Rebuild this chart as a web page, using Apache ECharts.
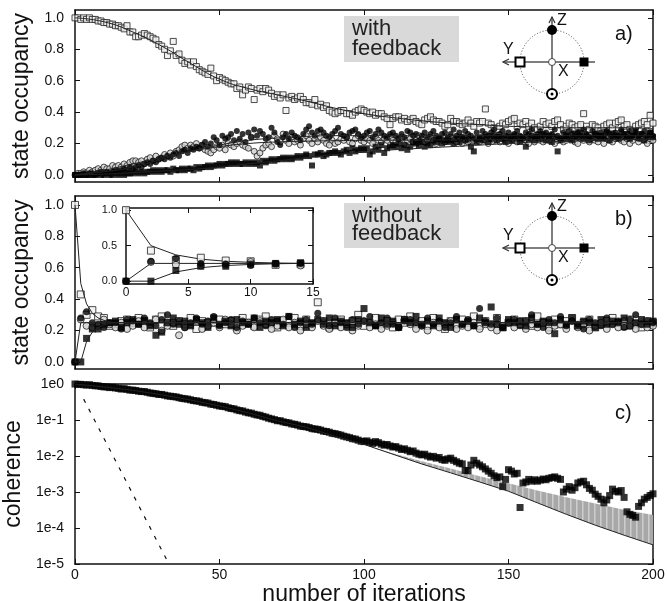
<!DOCTYPE html>
<html>
<head>
<meta charset="utf-8">
<script src="https://cdn.jsdelivr.net/npm/echarts@6/dist/echarts.min.js"></script>
<style>
  html, body { margin: 0; padding: 0; background: #fff; }
  #chart { width: 667px; height: 601px; }
</style>
</head>
<body>
<div id="chart"></div>
<script>
var FONT = "Liberation Sans, Arial, Helvetica, sans-serif";
var INK = "#111";

// a) with feedback: occupancy in percent, one value per iteration 0..200
var fbY = [100,100,99,100,99,100,99,99,98,98, 97,97,96,96,95,95,94,93,95,91,
  91,88,88,89,90,89,88,87,86,83, 82,80,76,79,85,76,77,73,71,72,
  70,72,69,67,66,65,64,68,63,60, 62,61,60,59,58,58,55,56,51,54,
  56,55,48,54,55,53,55,54,52,50, 51,49,51,41,49,50,48,49,50,48,
  46,46,45,48,44,45,43,44,41,40, 39,40,41,41,39,39,38,40,41,42,
  41,40,39,40,38,39,39,37,36,32, 36,37,37,35,36,34,35,36,34,33,
  32,35,36,37,35,34,34,33,31,32, 36,34,34,33,32,33,35,33,31,34,
  33,34,42,33,32,30,29,31,33,32, 34,35,36,31,33,32,34,31,33,30,
  29,31,34,32,33,31,34,35,32,29, 31,33,32,30,31,32,39,31,29,32,
  31,30,28,31,32,33,30,33,34,35, 31,32,29,28,31,32,33,34,32,38, 33];
var fbZ = [0,0,0,1,0,1,1,0,1,2, 1,2,1,2,3,2,3,4,3,5,
  4,5,6,5,7,8,7,9,8,10, 11,10,12,11,13,14,12,15,16,14,
  17,16,18,17,19,21,18,20,24,22, 19,25,23,24,26,22,28,23,26,21,
  27,24,29,25,28,26,23,24,30,27, 21,19,24,26,23,27,25,24,22,26,
  29,31,27,25,28,29,27,25,24,26, 28,30,26,25,24,27,28,29,26,24,
  25,27,28,24,26,29,27,25,24,26, 27,25,23,26,24,28,27,25,26,22,
  25,27,24,26,28,25,23,26,27,24, 26,29,25,27,24,28,26,25,23,27,
  24,28,26,25,27,29,24,26,28,25, 27,24,26,28,25,23,27,26,29,24,
  26,28,25,27,24,26,29,25,23,27, 25,28,26,24,27,25,29,26,24,28,
  26,25,27,23,28,26,24,27,25,29, 26,24,28,25,27,23,26,28,24,27, 25];
var fbMinusZ = [0,1,1,2,1,3,2,3,4,3, 5,4,4,6,5,6,5,7,6,8,
  9,9,8,9,7,10,11,9,12,10, 11,13,12,14,12,15,16,18,19,17,
  19,18,20,17,19,16,15,14,16,18, 17,19,16,20,19,18,20,21,19,18,
  17,24,15,12,14,17,19,20,18,25, 23,21,26,22,20,24,21,22,19,23,
  25,22,20,23,21,24,22,20,19,22, 20,21,23,22,24,21,20,23,25,22,
  21,23,22,20,24,22,21,23,22,24, 22,21,23,24,20,22,23,21,22,25,
  23,21,22,24,22,20,23,22,21,23, 24,22,21,23,20,22,21,22,22,23,
  21,24,22,20,23,22,24,21,23,22, 20,23,22,21,24,23,22,20,23,21,
  24,22,21,23,22,25,20,22,23,21, 22,24,23,21,20,23,22,24,21,23,
  22,21,24,20,23,22,21,23,24,22, 21,23,20,22,24,21,23,22,20,23, 22];
var fbX = [0,0,0,0,0,0,0,0,1,0, 0,1,0,0,1,0,1,0,1,1,
  1,2,1,2,1,2,2,3,2,3, 2,3,3,2,4,3,3,4,3,4,
  4,3,5,4,5,5,6,5,6,6, 7,6,7,7,8,7,8,7,7,8,
  7,8,7,8,6,9,8,9,10,9, 10,10,11,10,11,10,11,12,11,12,
  13,12,6,13,13,14,12,13,14,14, 15,14,13,15,16,14,17,15,16,17,
  16,17,13,15,18,16,19,14,17,18, 19,18,20,17,19,16,18,21,20,19,
  21,18,20,19,22,21,23,20,22,21, 22,20,23,21,24,22,23,18,15,21,
  23,22,24,21,23,25,22,24,23,21, 24,22,25,23,21,24,18,23,25,22,
  24,23,26,22,25,21,24,15,22,23, 25,23,22,26,24,27,23,25,22,24,
  26,23,25,24,27,22,26,25,23,27, 24,26,23,25,28,24,26,22,25,27, 24];

// a) model curves
var fbCurveIter = [0,10,20,30,40,50,60,70,80,90,100,110,120,130,140,150,160,170,180,190,200];
var fbCurveY = [1.0,0.975,0.91,0.82,0.71,0.61,0.55,0.51,0.47,0.425,0.39,0.365,0.345,0.33,0.32,0.31,0.305,0.30,0.30,0.30,0.295];
var fbCurveZ = [0,0.02,0.05,0.10,0.15,0.19,0.22,0.235,0.245,0.25,0.25,0.25,0.25,0.25,0.25,0.25,0.25,0.25,0.25,0.25,0.25];
var fbCurveMinusZ = [0,0.03,0.07,0.11,0.15,0.18,0.20,0.21,0.215,0.218,0.22,0.221,0.222,0.223,0.224,0.225,0.225,0.225,0.225,0.225,0.225];
var fbCurveX = [0,0.005,0.015,0.025,0.035,0.05,0.07,0.09,0.11,0.13,0.145,0.16,0.17,0.18,0.19,0.20,0.21,0.215,0.22,0.225,0.23];

// b) without feedback: percent, every 2nd iteration 0..200
var nfStep = 2;
var nfY = [100,43,30,33,29,28,23,24,26,27, 25,28,26,22,27,29,25,23,26,24,
  28,21,26,25,25,27,24,26,22,28, 25,23,27,29,24,22,26,25,28,23,
  27,24,38,26,22,25,27,24,26,30, 23,25,28,24,26,22,27,25,29,24,
  26,23,28,25,21,26,24,27,25,29, 23,26,24,28,22,25,27,24,26,23,
  29,25,22,27,24,26,28,23,25,27, 22,24,26,28,25,23,27,24,22,26, 25];
var nfZ = [0,28,32,25,24,22,25,25,21,27, 26,24,28,25,23,27,30,24,26,22,
  25,28,24,26,29,23,25,27,22,26, 24,28,25,23,27,26,24,29,22,25,
  27,24,31,26,23,28,25,22,27,24, 26,29,23,25,28,24,22,26,27,25,
  23,28,24,26,22,25,29,24,27,23, 34,26,24,28,22,25,27,23,26,30,
  24,22,27,25,29,23,26,24,21,27, 25,23,28,24,26,22,27,30,24,26, 25];
var nfMinusZ = [0,27,23,22,23,27,24,22,25,21, 23,26,22,24,27,20,23,25,17,22,
  24,26,21,23,25,22,27,24,20,23, 25,22,26,24,21,23,27,22,25,20,
  24,22,26,23,21,25,22,24,20,23, 26,22,24,21,23,25,22,27,24,21,
  23,20,25,22,24,26,21,23,22,25, 21,24,22,20,23,25,22,26,21,24,
  22,25,20,23,24,21,26,22,24,20, 23,25,21,24,22,26,23,21,24,22, 23];
var nfX = [0,0,15,21,21,24,25,26,22,25, 27,24,26,23,17,19,25,28,24,26,
  23,27,25,22,28,24,26,23,27,25, 24,28,22,26,25,27,23,29,24,26,
  22,25,27,24,28,23,26,25,22,27, 34,25,23,28,24,26,22,27,25,29,
  24,26,23,28,25,22,27,24,26,23, 28,25,35,24,22,27,25,26,23,28,
  24,26,25,18,27,24,28,23,26,25, 22,27,24,26,25,28,23,25,27,24, 26];

// b) model curves
var nfCurveIter = [0,2,4,6,8,10,12,14,200];
var nfCurveY = [1,0.5,0.37,0.31,0.28,0.265,0.255,0.25,0.25];
var nfCurveZ = [0,0.25,0.25,0.25,0.25,0.25,0.25,0.25,0.25];
var nfCurveX = [0,0,0.13,0.19,0.22,0.235,0.245,0.25,0.25];

// c) coherence, read in decades (log10), one value per iteration 0..200
var coherenceExp = [0,-0.01,-0.01,-0.02,-0.03,-0.02,-0.04,-0.05,-0.05,-0.07,
  -0.08,-0.08,-0.1,-0.09,-0.11,-0.12,-0.14,-0.13,-0.15,-0.17,
  -0.17,-0.18,-0.2,-0.21,-0.21,-0.23,-0.25,-0.26,-0.27,-0.29,
  -0.29,-0.31,-0.33,-0.34,-0.35,-0.36,-0.38,-0.4,-0.41,-0.42,
  -0.44,-0.46,-0.47,-0.48,-0.51,-0.52,-0.53,-0.56,-0.57,-0.59,
  -0.61,-0.62,-0.63,-0.66,-0.68,-0.69,-0.72,-0.74,-0.75,-0.78,
  -0.8,-0.81,-0.84,-0.86,-0.87,-0.9,-0.92,-0.95,-0.97,-0.99,
  -1.02,-1.02,-1.05,-1.07,-1.08,-1.11,-1.12,-1.14,-1.17,-1.18,
  -1.19,-1.21,-1.24,-1.25,-1.26,-1.28,-1.31,-1.32,-1.34,-1.37,
  -1.38,-1.4,-1.42,-1.45,-1.47,-1.49,-1.52,-1.53,-1.56,-1.59,
  -1.6,-1.58,-1.62,-1.65,-1.6,-1.63,-1.67,-1.7,-1.68,-1.72,
  -1.75,-1.74,-1.78,-1.82,-1.8,-1.84,-1.88,-1.86,-1.92,-1.95,
  -1.97,-1.95,-2.0,-2.03,-2.01,-2.06,-2.04,-2.1,-2.12,-2.08,
  -2.06,-2.12,-2.16,-2.2,-2.22,-2.4,-2.41,-2.25,-2.12,-2.2,
  -2.25,-2.3,-2.36,-2.42,-2.48,-2.55,-2.6,-2.58,-2.85,-2.65,
  -2.38,-2.42,-2.5,-2.48,-3.43,-2.75,-2.72,-2.65,-2.7,-2.66,
  -2.7,-2.67,-2.64,-2.66,-2.62,-2.6,-2.58,-2.62,-2.65,-3.0,
  -2.92,-2.85,-2.95,-2.88,-2.75,-2.72,-2.7,-2.8,-2.9,-2.95,
  -3.06,-3.12,-3.2,-3.3,-3.22,-3.1,-2.92,-2.98,-3.0,-2.96,
  -3.15,-3.55,-3.62,-3.65,-3.7,-3.4,-3.3,-3.2,-3.15,-3.1,
  -3.05];
var cohCurveIter = [0,10,20,30,40,50,60,70,80,90,100,110,120,130,140,150,160,170,180,190,200];
var cohCurve = [1,0.83,0.67,0.5,0.36,0.245,0.158,0.095,0.063,0.035,0.021,0.0112,0.006,0.0034,0.0019,0.00105,0.0005,0.00024,0.00012,0.000063,0.000034];
var bandIter = [100,110,120,130,140,150,160,170,180,190,200];
var bandLow = [0.021,0.0112,0.006,0.0034,0.0019,0.00105,0.0005,0.00024,0.00012,0.000063,0.000034];
var bandHigh = [0.021,0.012,0.0072,0.0045,0.00275,0.00174,0.0011,0.00072,0.00048,0.00032,0.00023];
var noFbIter = [3, 32.5];
var noFbCoh = [0.38, 0.00001];

var occTicks = [0, 0.2, 0.4, 0.6, 0.8, 1.0];
var insetTicks = [0, 0.5, 1.0];

function seq(arr, step, scale) {
  return arr.map(function (v, i) { return [i * step, v / scale]; });
}
function pairs(xs, ys) {
  return xs.map(function (x, i) { return [x, ys[i]]; });
}

var MARK = {
  openSq: { symbol: "rect", itemStyle: { color: "#f0f0f0", borderColor: "#222", borderWidth: 1 } },
  openCi: { symbol: "circle", itemStyle: { color: "#cfcfcf", borderColor: "#222", borderWidth: 1 } },
  fullCi: { symbol: "circle", itemStyle: { color: "#000" } },
  fullSq: { symbol: "rect", itemStyle: { color: "#000" } }
};

function dots(xi, data, mark, size, z) {
  return {
    type: "scatter", xAxisIndex: xi, yAxisIndex: xi, data: data,
    symbol: mark.symbol, symbolSize: size, itemStyle: mark.itemStyle,
    z: z || 3, silent: true
  };
}
function curve(xi, data, smooth, z) {
  return {
    type: "line", xAxisIndex: xi, yAxisIndex: xi, data: data,
    showSymbol: false, smooth: smooth, lineStyle: { color: "#222", width: 1 },
    z: z || 4, silent: true
  };
}

var lineSt = { color: INK, width: 1.5 };
var tickSt = { color: INK, width: 1 };
var lblSt = { fontSize: 14, color: INK, fontFamily: FONT };

function xAx(grid, pos, label, min, max, interval, extra) {
  var ax = {
    type: "value", gridIndex: grid, position: pos, min: min, max: max, interval: interval,
    axisLine: { onZero: false, lineStyle: lineSt },
    axisTick: { inside: true, length: 5, lineStyle: tickSt },
    axisLabel: Object.assign({ show: label, margin: 4 }, lblSt),
    splitLine: { show: false }
  };
  return Object.assign(ax, extra || {});
}
function yAx(grid, pos, label, min, max, ticks, extra) {
  var ax = {
    type: "value", gridIndex: grid, position: pos, min: min, max: max,
    axisLine: { onZero: false, lineStyle: lineSt },
    axisTick: { inside: true, length: 5, lineStyle: tickSt, customValues: ticks },
    axisLabel: Object.assign({
      show: label, margin: 11, customValues: ticks,
      formatter: function (v) { return v.toFixed(1); }
    }, lblSt),
    splitLine: { show: false }
  };
  return Object.assign(ax, extra || {});
}
function logAx(pos, label, extra) {
  var ax = {
    type: "log", logBase: 10, gridIndex: 2, position: pos, min: 0.00001, max: 1,
    axisLine: { onZero: false, lineStyle: lineSt },
    axisTick: { inside: true, length: 5, lineStyle: tickSt },
    minorTick: { show: false },
    axisLabel: Object.assign({
      show: label, margin: 11,
      formatter: function (v) { return "1e" + Math.round(Math.log10(v)); }
    }, lblSt),
    splitLine: { show: false }
  };
  return Object.assign(ax, extra || {});
}

var axisName = { fontSize: 23, color: INK, fontFamily: FONT };

var bandPattern = (function () {
  var c = document.createElement("canvas");
  c.width = 6; c.height = 4;
  var g = c.getContext("2d");
  g.fillStyle = "#a8a8a8"; g.fillRect(0, 0, 6, 4);
  g.fillStyle = "#cdcdcd"; g.fillRect(0, 0, 1.5, 4);
  return c;
})();

function sphere(cy) {
  var cx = 552, r = 32;
  var st = { stroke: "#555", lineWidth: 1.5 };
  return [
    { type: "circle", shape: { cx: cx, cy: cy, r: r }, style: { fill: "none", stroke: "#444", lineWidth: 1, lineDash: [1, 2] } },
    { type: "line", shape: { x1: 503, y1: cy, x2: 595, y2: cy }, style: st },
    { type: "line", shape: { x1: cx, y1: cy - 45, x2: cx, y2: cy + 38 }, style: st },
    { type: "polyline", shape: { points: [[509, cy - 3], [503, cy], [509, cy + 3]] }, style: { stroke: "#333", lineWidth: 1.2, fill: "none" } },
    { type: "polyline", shape: { points: [[cx - 3, cy - 39], [cx, cy - 45], [cx + 3, cy - 39]] }, style: { stroke: "#333", lineWidth: 1.2, fill: "none" } },
    { type: "circle", shape: { cx: cx, cy: cy - r, r: 5 }, style: { fill: "#000" } },
    { type: "rect", shape: { x: 515.5, y: cy - 4.5, width: 9, height: 9 }, style: { fill: "#fff", stroke: "#000", lineWidth: 2 } },
    { type: "rect", shape: { x: 579.5, y: cy - 4.5, width: 9, height: 9 }, style: { fill: "#000" } },
    { type: "circle", shape: { cx: cx, cy: cy, r: 3.5 }, style: { fill: "#fff", stroke: "#444", lineWidth: 1 } },
    { type: "circle", shape: { cx: cx, cy: cy + r, r: 5 }, style: { fill: "#fff", stroke: "#000", lineWidth: 2 } },
    { type: "circle", shape: { cx: cx, cy: cy + r, r: 1.5 }, style: { fill: "#000" } },
    { type: "text", style: { text: "Z", x: 557, y: cy - 41, font: "16px " + FONT, fill: INK, align: "left", verticalAlign: "middle" } },
    { type: "text", style: { text: "Y", x: 503, y: cy - 12, font: "16px " + FONT, fill: INK, align: "left", verticalAlign: "middle" } },
    { type: "text", style: { text: "X", x: 558, y: cy + 10, font: "16px " + FONT, fill: INK, align: "left", verticalAlign: "middle" } }
  ];
}

function noteBox(y, h, text, top, lh) {
  return [
    { type: "rect", shape: { x: 344, y: y, width: 115, height: h }, style: { fill: "#d9d9d9" } },
    { type: "text", style: { text: text, x: 352, y: top, font: "22px " + FONT, lineHeight: lh, fill: "#222", align: "left", verticalAlign: "top" } }
  ];
}
function panelTag(text, y) {
  return { type: "text", style: { text: text, x: 615, y: y, font: "20px " + FONT, fill: INK, align: "left", verticalAlign: "middle" } };
}

var chart = echarts.init(document.getElementById("chart"), null, { renderer: "canvas" });

var option = {
  animation: false,
  backgroundColor: "#fff",
  grid: [
    { left: 75, top: 10, width: 578, height: 172, outerBoundsMode: "none" },
    { left: 75, top: 196, width: 578, height: 173, outerBoundsMode: "none" },
    { left: 75, top: 384, width: 578, height: 180, outerBoundsMode: "none" },
    { left: 126, top: 208, width: 187, height: 76, outerBoundsMode: "none" }
  ],
  xAxis: [
    xAx(0, "bottom", false, 0, 200, 50),
    xAx(1, "bottom", false, 0, 200, 50),
    xAx(2, "bottom", true, 0, 200, 50, {
      name: "number of iterations", nameLocation: "middle", nameGap: 16, nameTextStyle: axisName
    }),
    xAx(3, "bottom", true, 0, 15, 5, { axisLabel: { show: true, margin: 3, fontSize: 12, color: INK, fontFamily: FONT } }),
    xAx(0, "top", false, 0, 200, 50),
    xAx(1, "top", false, 0, 200, 50),
    xAx(2, "top", false, 0, 200, 50),
    xAx(3, "top", false, 0, 15, 5)
  ],
  yAxis: [
    yAx(0, "left", true, -0.045, 1.05, occTicks, {
      name: "state occupancy", nameLocation: "middle", nameGap: 42, nameTextStyle: axisName
    }),
    yAx(1, "left", true, -0.045, 1.057, occTicks, {
      name: "state occupancy", nameLocation: "middle", nameGap: 42, nameTextStyle: axisName
    }),
    logAx("left", true, {
      name: "coherence", nameLocation: "middle", nameGap: 42, nameTextStyle: axisName
    }),
    yAx(3, "left", true, -0.04, 1.03, insetTicks, {
      axisLabel: { show: true, margin: 9, customValues: insetTicks, fontSize: 11, color: INK, fontFamily: FONT,
        formatter: function (v) { return v.toFixed(1); } }
    }),
    yAx(0, "right", false, -0.045, 1.05, occTicks),
    yAx(1, "right", false, -0.045, 1.057, occTicks),
    logAx("right", false),
    yAx(3, "right", false, -0.04, 1.03, insetTicks)
  ],
  series: [
    // a) with feedback
    dots(0, seq(fbY, 1, 100), MARK.openSq, 6),
    dots(0, seq(fbMinusZ, 1, 100), MARK.openCi, 6),
    dots(0, seq(fbZ, 1, 100), MARK.fullCi, 6),
    dots(0, seq(fbX, 1, 100), MARK.fullSq, 6),
    curve(0, pairs(fbCurveIter, fbCurveY), true),
    curve(0, pairs(fbCurveIter, fbCurveZ), true),
    curve(0, pairs(fbCurveIter, fbCurveMinusZ), true),
    curve(0, pairs(fbCurveIter, fbCurveX), true),
    // b) without feedback
    curve(1, pairs(nfCurveIter, nfCurveY), false),
    curve(1, pairs(nfCurveIter, nfCurveZ), false),
    curve(1, pairs(nfCurveIter, nfCurveX), false),
    dots(1, seq(nfY, nfStep, 100), MARK.openSq, 7),
    dots(1, seq(nfMinusZ, nfStep, 100), MARK.openCi, 7),
    dots(1, seq(nfZ, nfStep, 100), MARK.fullCi, 7),
    dots(1, seq(nfX, nfStep, 100), MARK.fullSq, 7),
    // inset: first iterations of b)
    curve(3, pairs(nfCurveIter, nfCurveY), false, 6),
    curve(3, pairs(nfCurveIter, nfCurveZ), false, 6),
    curve(3, pairs(nfCurveIter, nfCurveX), false, 6),
    dots(3, seq(nfY.slice(0, 8), nfStep, 100), MARK.openSq, 7, 7),
    dots(3, seq(nfMinusZ.slice(0, 8), nfStep, 100), MARK.openCi, 7, 7),
    dots(3, seq(nfZ.slice(0, 8), nfStep, 100), MARK.fullCi, 7, 7),
    dots(3, seq(nfX.slice(0, 8), nfStep, 100), MARK.fullSq, 7, 7),
    // c) coherence
    {
      type: "custom", xAxisIndex: 2, yAxisIndex: 2, silent: true, z: 1,
      data: bandIter.map(function (x, i) { return [x, bandLow[i], bandHigh[i]]; }),
      encode: { x: 0, y: [1, 2] },
      renderItem: function (params, api) {
        if (params.dataIndex !== 0) return null;
        var pts = [];
        for (var i = 0; i < bandIter.length; i++) pts.push(api.coord([bandIter[i], bandHigh[i]]));
        for (var j = bandIter.length - 1; j >= 0; j--) pts.push(api.coord([bandIter[j], bandLow[j]]));
        return { type: "polygon", shape: { points: pts }, style: { fill: { image: bandPattern, repeat: "repeat" } } };
      }
    },
    curve(2, pairs(cohCurveIter, cohCurve), false),
    {
      type: "line", xAxisIndex: 2, yAxisIndex: 2, data: pairs(noFbIter, noFbCoh),
      showSymbol: false, silent: true, z: 4,
      lineStyle: { color: "#111", width: 1.2, type: [4, 7] }
    },
    dots(2, coherenceExp.map(function (e, i) { return [i, Math.pow(10, e)]; }), MARK.fullSq, 7)
  ],
  graphic: [].concat(
    noteBox(16, 46, "with\nfeedback", 19, 20),
    noteBox(203, 45, "without\nfeedback", 207, 18),
    sphere(62),
    sphere(248),
    [panelTag("a)", 34), panelTag("b)", 219), panelTag("c)", 413)]
  )
};

chart.setOption(option);
</script>
</body>
</html>
